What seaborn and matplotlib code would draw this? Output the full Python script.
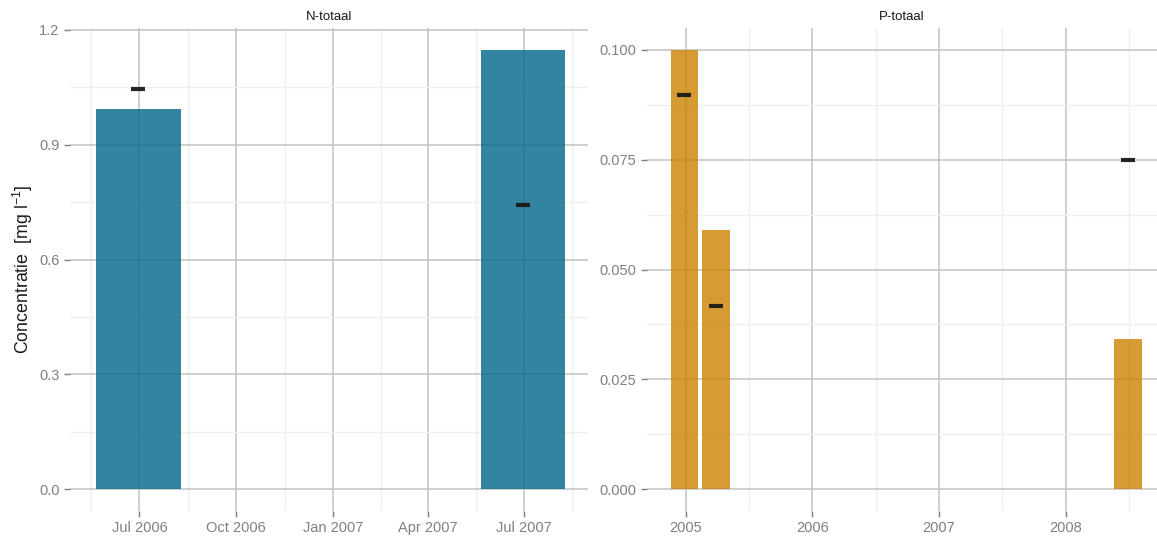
import numpy as np
import pandas as pd
import matplotlib
matplotlib.use("Agg")
import matplotlib.pyplot as plt
import matplotlib.dates as mdates
from matplotlib.ticker import FixedLocator, FormatStrFormatter
import seaborn as sns

# ---- data -------------------------------------------------------------
n_dates = ["2006-06-30", "2007-06-30"]
n_conc = [0.994, 1.147]          # bar height
n_norm = [1.047, 0.743]          # black dash

p_dates = ["2004-12-29", "2005-03-29", "2008-06-28"]
p_conc = [0.100, 0.059, 0.0342]
p_norm = [0.0898, 0.0417, 0.075]

n_xticks = ["2006-07-01", "2006-10-01", "2007-01-01", "2007-04-01", "2007-07-01"]
n_xticklabels = ["Jul 2006", "Oct 2006", "Jan 2007", "Apr 2007", "Jul 2007"]
p_xticks = ["2005-01-01", "2006-01-01", "2007-01-01", "2008-01-01"]
p_xticklabels = ["2005", "2006", "2007", "2008"]

n_yticks = [0.0, 0.3, 0.6, 0.9, 1.2]
p_yticks = [0.0, 0.025, 0.050, 0.075, 0.100]

panel_titles = ["N-totaal", "P-totaal"]
y_label = "Concentratie  [mg l$^{-1}$]"

# ---- style ------------------------------------------------------------
sns.set_theme(style="white")
plt.rcParams["font.family"] = ["Liberation Sans", "DejaVu Sans"]
plt.rcParams["mathtext.default"] = "regular"

BAR_DAYS = 80
TEAL = "#006688"
ORANGE = "#CC8200"
DASH = "#1A1A1A"
TICK_GREY = "#7F7F7F"
LABEL_GREY = "#808080"

W, H = 1157, 540
fig = plt.figure(figsize=(W / 100, H / 100), dpi=100)


def frac_box(x0, x1, y_top, y_bot):
    return [x0 / W, 1 - y_bot / H, (x1 - x0) / W, (y_bot - y_top) / H]


ax_n = fig.add_axes(frac_box(70, 588, 28, 511))
ax_p = fig.add_axes(frac_box(647, 1157, 28, 511))


def midpoints(vals):
    v = np.asarray(vals, dtype=float)
    step0 = v[1] - v[0]
    step1 = v[-1] - v[-2]
    inner = (v[:-1] + v[1:]) / 2
    return np.concatenate([[v[0] - step0 / 2], inner, [v[-1] + step1 / 2]])


def draw_panel(ax, dates, conc, norm, color, xticks, xticklabels,
               yticks, yfmt, xlim, ylim, title):
    x = mdates.date2num(pd.to_datetime(dates))
    df = pd.DataFrame({"x": x, "conc": conc, "norm": norm})
    rel_width = BAR_DAYS / np.diff(np.sort(x)).min()

    sns.barplot(data=df, x="x", y="conc", native_scale=True, width=rel_width,
                color=color, saturation=1, alpha=0.8, errorbar=None,
                linewidth=0, ax=ax, zorder=2)
    sns.scatterplot(data=df, x="x", y="norm", marker="_", s=100,
                    linewidth=3.0, color=DASH, edgecolor=DASH, alpha=0.95,
                    ax=ax, zorder=3, legend=False)

    xt = mdates.date2num(pd.to_datetime(xticks))
    ax.set_xlim(*mdates.date2num(pd.to_datetime(xlim)))
    ax.set_ylim(*ylim)
    ax.xaxis.set_major_locator(FixedLocator(xt))
    ax.set_xticklabels(xticklabels)
    ax.xaxis.set_minor_locator(FixedLocator(midpoints(xt)))
    ax.yaxis.set_major_locator(FixedLocator(yticks))
    ax.yaxis.set_major_formatter(FormatStrFormatter(yfmt))
    ax.yaxis.set_minor_locator(FixedLocator(midpoints(yticks)))

    ax.set_axisbelow(True)
    ax.grid(which="major", color="#C2C2C2", linewidth=1.1)
    ax.grid(which="minor", color="#EFEFEF", linewidth=0.9)
    for s in ax.spines.values():
        s.set_visible(False)
    ax.tick_params(which="major", length=4.5, width=1.0, color=TICK_GREY,
                   labelcolor=LABEL_GREY, labelsize=10.5, pad=3,
                   bottom=True, left=True)
    ax.tick_params(which="minor", length=0)
    ax.set_xlabel("")
    ax.set_ylabel("")
    ax.set_title(title, fontsize=9.5, color="#1A1A1A", pad=6)


draw_panel(ax_n, n_dates, n_conc, n_norm, TEAL, n_xticks, n_xticklabels,
           n_yticks, "%.1f", ("2006-04-26", "2007-08-31"), (-0.0574, 1.2052),
           panel_titles[0])
draw_panel(ax_p, p_dates, p_conc, p_norm, ORANGE, p_xticks, p_xticklabels,
           p_yticks, "%.3f", ("2004-09-12", "2008-09-20"), (-0.005, 0.105),
           panel_titles[1])

ax_n.set_ylabel(y_label, fontsize=12.8, color="#1A1A1A", labelpad=3)

fig.savefig("out.png", dpi=100)
